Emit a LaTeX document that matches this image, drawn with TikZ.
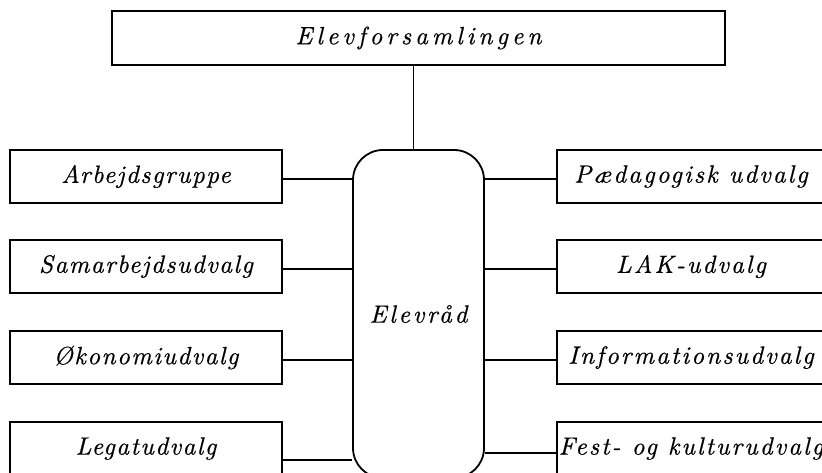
\documentclass[tikz,border=0pt]{standalone}
\usepackage{fontspec}
\newfontface\udvalgfont[LetterSpace=6, FakeBold=0.5]{lmroman10-italic.otf}
\newfontface\hoejrefont[LetterSpace=8.5, FakeBold=0.5]{lmroman10-italic.otf}
\newfontface\raadfont[LetterSpace=11, FakeBold=0.5]{lmroman10-italic.otf}
\newfontface\widefont[LetterSpace=16, FakeBold=0.5]{lmroman10-italic.otf}
\tikzset{
  udvalg/.style={draw, line width=1.8pt, minimum height=53pt, inner sep=0pt,
    font=\udvalgfont\fontsize{25pt}{30pt}\selectfont},
  venstre/.style={udvalg, minimum width=272pt},
  hoejre/.style={udvalg, minimum width=268pt, font=\hoejrefont\fontsize{25pt}{30pt}\selectfont},
  forbind/.style={line width=1.8pt}
}
\begin{document}
\begin{tikzpicture}[x=1pt, y=-1pt]
\useasboundingbox (0,0) rectangle (822,473);
\clip (0,0) rectangle (822,473);
% top
\node[udvalg, minimum width=613pt, minimum height=54pt,
  font=\widefont\fontsize{25pt}{30pt}\selectfont] (forsamling) at (418.5,38) {Elevforsamlingen};
% elevraadet
\node[draw, line width=1.8pt, rounded corners=30pt, minimum width=131pt, minimum height=328pt,
  inner sep=0pt, font=\raadfont\fontsize{25pt}{30pt}\selectfont] (raad) at (418.5,314) {\raisebox{-4pt}{Elevråd}};
% left column
\node[venstre] (arbejd) at (146,176.5) {Arbejdsgruppe};
\node[venstre] (samarb) at (146,266.5) {Samarbejdsudvalg};
\node[venstre] (oekonomi) at (146,357.5) {Økonomiudvalg};
\node[venstre] (legat) at (146,448.5) {Legatudvalg};
% right column
\node[hoejre] (paed) at (691,176.5) {Pædagogisk udvalg};
\node[hoejre] (lak) at (691,266.5) {LAK-udvalg};
\node[hoejre] (info) at (691,357.5) {Informationsudvalg};
\node[hoejre] (fest) at (691,448.5) {Fest- og kulturudvalg};
% connectors
\draw[forbind] ([xshift=-5pt]forsamling.south) -- ([xshift=-5pt]raad.north);
\draw[forbind] ([yshift=-2.5pt]arbejd.east) -- ([yshift=-2.5pt]arbejd.east -| raad.west);
\draw[forbind] ([yshift=-2.5pt]samarb.east) -- ([yshift=-2.5pt]samarb.east -| raad.west);
\draw[forbind] ([yshift=-2.5pt]oekonomi.east) -- ([yshift=-2.5pt]oekonomi.east -| raad.west);
\draw[forbind] ([yshift=-11.5pt]legat.east) -- ([yshift=-11.5pt]legat.east -| raad.west);
\draw[forbind] ([yshift=-2.5pt]paed.west) -- ([yshift=-2.5pt]paed.west -| raad.east);
\draw[forbind] ([yshift=-2.5pt]lak.west) -- ([yshift=-2.5pt]lak.west -| raad.east);
\draw[forbind] ([yshift=-2.5pt]info.west) -- ([yshift=-2.5pt]info.west -| raad.east);
\draw[forbind] ([yshift=-4.5pt]fest.west) -- ([yshift=-4.5pt]fest.west -| raad.east);
\end{tikzpicture}
\end{document}
